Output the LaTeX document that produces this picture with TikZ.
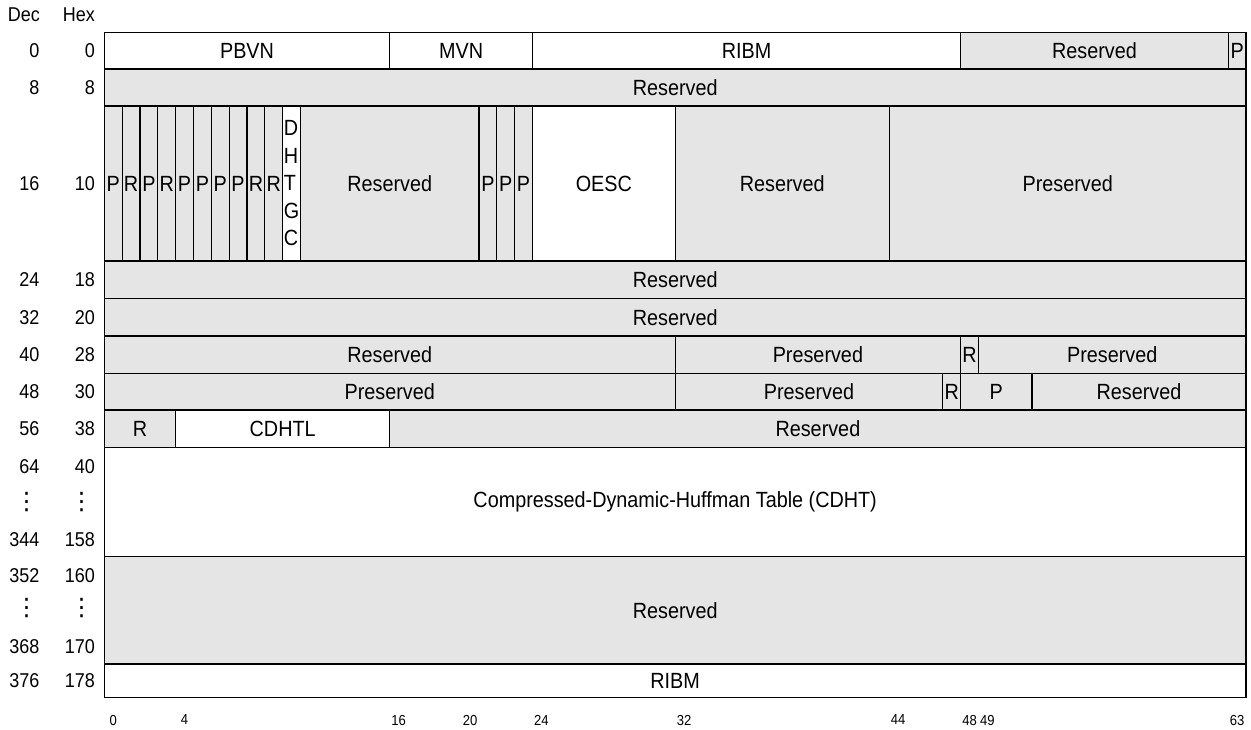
\documentclass[tikz,border=0pt]{standalone}
\usepackage{fontspec}
\setmainfont{Liberation Sans}[FakeStretch=0.9]
\newfontfamily\dotfont{DejaVu Sans}
\usetikzlibrary{positioning}
\definecolor{resgray}{RGB}{229,229,229}

% bit 0 left edge and width of one bit
\newcommand{\xorg}{104.3}
\newcommand{\bitw}{17.84}
% name, style, first bit, end bit, top, bottom, label
\newcommand{\regfield}[7]{%
  \node[#2, minimum width={(#4-#3)*\bitw pt}, minimum height={(#6-#5)*1pt}, anchor=north west]
    (#1) at ({\xorg+#3*\bitw},#5) {#7};}

\begin{document}
\begin{tikzpicture}[
    x=1pt, y=-1pt,
    field/.style={rectangle, draw, line width=1.2pt, inner sep=0pt, outer sep=0pt,
      font=\fontsize{22}{24}\selectfont},
    whitefld/.style={field, fill=white},
    grayfld/.style={field, fill=resgray},
    rowlbl/.style={anchor=east, inner sep=0pt, font=\fontsize{20}{22}\selectfont},
    dotlbl/.style={inner sep=0pt, font=\dotfont\fontsize{24}{26}\selectfont},
    bitlbl/.style={inner sep=0pt, font=\fontsize{14.5}{16}\selectfont}
]
    \useasboundingbox (0,0) rectangle (1251,729);

    % Column headers
    \node[rowlbl] (dechead) at (40,15) {Dec};
    \node[rowlbl] (hexhead) at (95,15) {Hex};

    % Row 0
    \regfield{pbvn}{whitefld}{0}{16}{32.3}{69}{PBVN}
    \regfield{mvn}{whitefld}{16}{24}{32.3}{69}{MVN}
    \regfield{ribm}{whitefld}{24}{48}{32.3}{69}{RIBM}
    \regfield{resa}{grayfld}{48}{63}{32.3}{69}{Reserved}
    \regfield{pa}{grayfld}{63}{64}{32.3}{69}{P}

    % Row 8
    \regfield{resb}{grayfld}{0}{64}{69}{106}{Reserved}

    % Row 16
    \foreach \b/\t in {0/P,1/R,2/P,3/R,4/P,5/P,6/P,7/P,8/R,9/R} {
      \regfield{bit\b}{grayfld}{\b}{\b+1}{106}{261}{\t}
    }
    \regfield{dhtgc}{whitefld, align=left, font=\fontsize{22}{27.5}\selectfont}{10}{11}{106}{261}{D\\H\\T\\G\\C}
    \regfield{resc}{grayfld}{11}{21}{106}{261}{Reserved}
    \foreach \b in {21,22,23} {
      \regfield{bit\b}{grayfld}{\b}{\b+1}{106}{261}{P}
    }
    \regfield{oesc}{whitefld}{24}{32}{106}{261}{OESC}
    \regfield{resd}{grayfld}{32}{44}{106}{261}{Reserved}
    \regfield{presa}{grayfld}{44}{64}{106}{261}{Preserved}

    % Row 24 and 32
    \regfield{rese}{grayfld}{0}{64}{261}{298.3}{Reserved}
    \regfield{resf}{grayfld}{0}{64}{298.3}{336}{Reserved}

    % Row 40
    \regfield{resg}{grayfld}{0}{32}{336}{373.3}{Reserved}
    \regfield{presb}{grayfld}{32}{48}{336}{373.3}{Preserved}
    \regfield{rb}{grayfld}{48}{49}{336}{373.3}{R}
    \regfield{presc}{grayfld}{49}{64}{336}{373.3}{Preserved}

    % Row 48
    \regfield{presd}{grayfld}{0}{32}{373.3}{410}{Preserved}
    \regfield{prese}{grayfld}{32}{47}{373.3}{410}{Preserved}
    \regfield{rc}{grayfld}{47}{48}{373.3}{410}{R}
    \regfield{pb}{grayfld}{48}{52}{373.3}{410}{P}
    \regfield{resh}{grayfld}{52}{64}{373.3}{410}{Reserved}

    % Row 56
    \regfield{rd}{grayfld}{0}{4}{410}{447.7}{R}
    \regfield{cdhtl}{whitefld}{4}{16}{410}{447.7}{CDHTL}
    \regfield{resi}{grayfld}{16}{64}{410}{447.7}{Reserved}

    % Table and tail
    \regfield{cdht}{whitefld}{0}{64}{447.7}{556.7}{Compressed-Dynamic-Huffman Table (CDHT)}
    \regfield{resj}{grayfld}{0}{64}{556.7}{664}{Reserved}
    \regfield{ribmb}{whitefld}{0}{64}{664}{697.7}{RIBM}

    % Byte offsets
    \foreach \dec/\hex/\yc in {0/0/50.7, 8/8/87.5, 16/10/183.5, 24/18/279.7, 32/20/317.2,
        40/28/354.7, 48/30/391.7, 56/38/428.9, 64/40/466.7, 344/158/540, 352/160/575.7,
        368/170/646.7, 376/178/681} {
      \node[rowlbl] (dec\dec) at (39.5,\yc) {\dec};
      \node[rowlbl] (hex\hex) at (95,\yc) {\hex};
    }
    \foreach \yc/\n in {501.7/a, 608/b} {
      \node[dotlbl] (decdots\n) at (26.7,\yc) {⋮};
      \node[dotlbl] (hexdots\n) at (81.7,\yc) {⋮};
    }

    % Bit numbers
    \foreach \b in {0,4,16,20,24,32,44,48,49,63} {
      \node[bitlbl] (bitno\b) at ({\xorg+(\b+0.5)*\bitw},720) {\b};
    }
\end{tikzpicture}
\end{document}
